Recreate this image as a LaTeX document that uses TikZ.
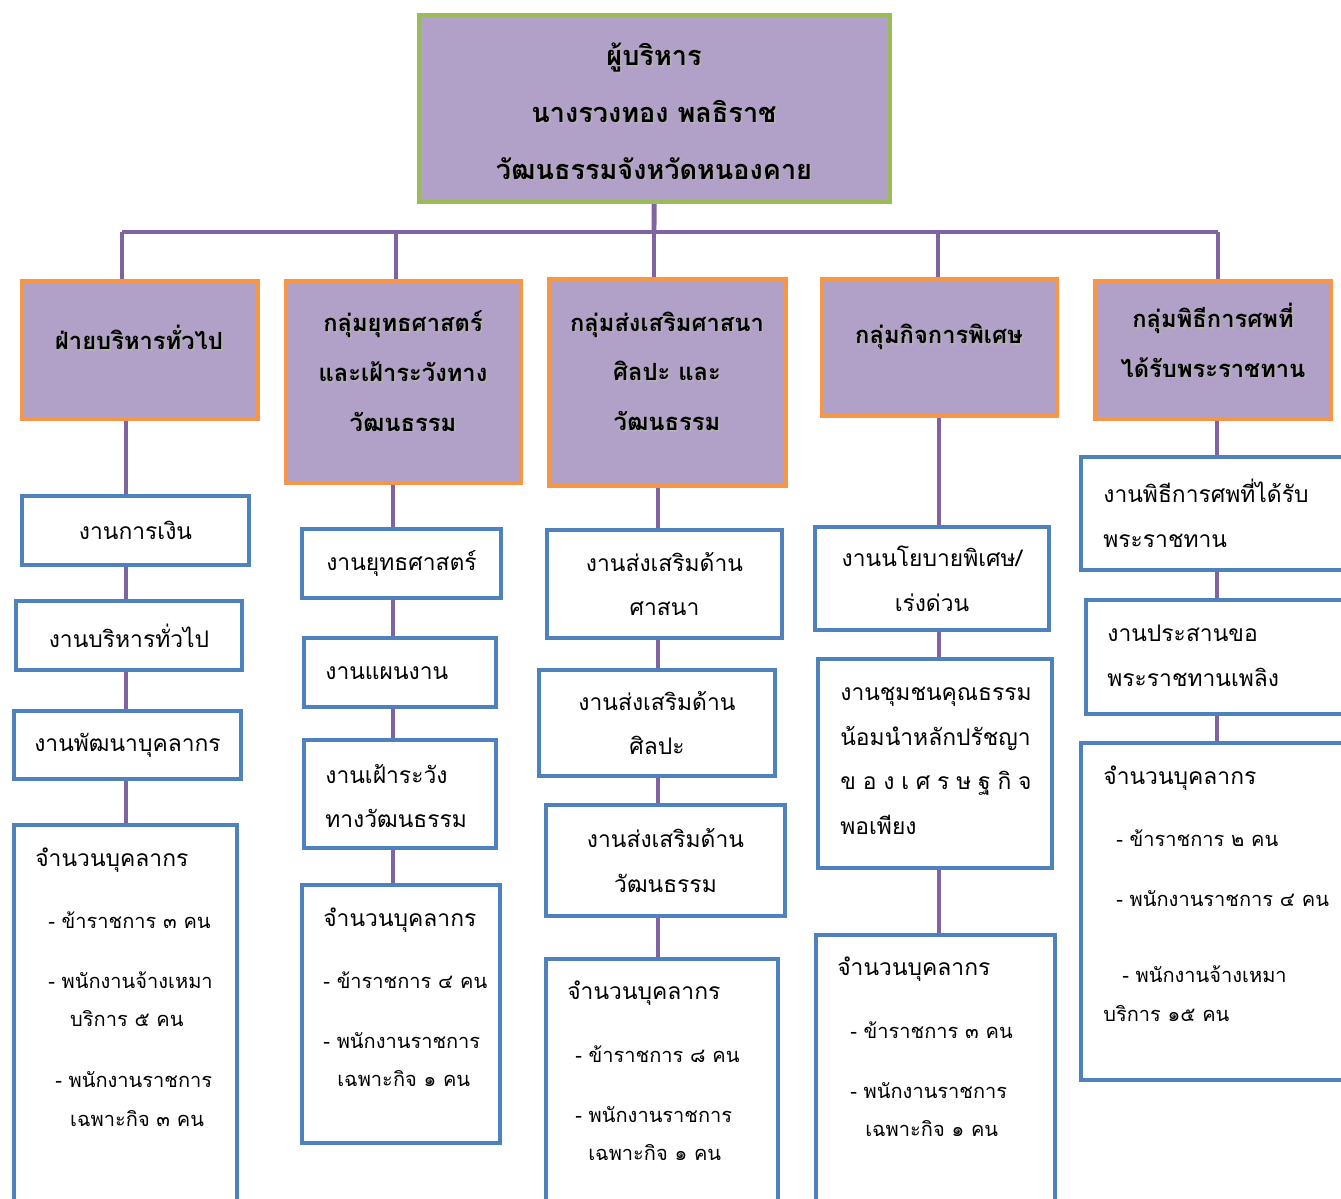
\documentclass[tikz,border=0pt]{standalone}
\usepackage{fontspec}
\setmainfont[Script=Thai]{Loma}
\usetikzlibrary{fit,backgrounds}

\definecolor{boxfill}{HTML}{B1A0C7}
\definecolor{topline}{HTML}{9BBB59}
\definecolor{grpline}{HTML}{F79646}
\definecolor{jobline}{HTML}{4F81BD}
\definecolor{linkline}{HTML}{8064A2}

\newlength\pxu
\setlength\pxu{0.5669pt}
\newcommand\shd[1]{\leavevmode\rlap{\kern1pt\raisebox{-1pt}{\textcolor{black!30}{#1}}}#1}
\newcommand\staffhead{{\fontsize{13}{22.1}\selectfont\strut จำนวนบุคลากร}}

\tikzset{
  topbox/.style={draw=topline, fill=boxfill, line width=2.3pt, inner sep=0pt},
  grpbox/.style={draw=grpline, fill=boxfill, line width=2.8pt, inner sep=0pt},
  jobbox/.style={draw=jobline, fill=white, line width=2.8pt, inner sep=0pt},
  link/.style={draw=linkline, line width=2.8pt},
  head/.style={font=\bfseries\fontsize{13.5}{28.3}\selectfont, align=center, inner sep=0pt},
  body/.style={font=\fontsize{13}{25.5}\selectfont, align=center, inner sep=0pt},
  lbody/.style={body, align=left, anchor=west},
  staff/.style={font=\fontsize{11.4}{22.1}\selectfont, align=left, inner sep=0pt, anchor=north west},
}

\begin{document}
\begin{tikzpicture}[x=0.02cm, y=-0.02cm]
\useasboundingbox (0,0) rectangle (1341,1199);
\clip (0,0) rectangle (1341,1199);

% director
\node[topbox, fit={(419,15) (890,202)}] (top) {};
\node[head, font=\bfseries\fontsize{15.4}{32.3}\selectfont] (toptxt) at (654,112)
  {\shd{ผู้บริหาร}\\\shd{นางรวงทอง พลธิราช}\\\shd{วัฒนธรรมจังหวัดหนองคาย}};

% groups
\node[grpbox, fit={(22,281) (258,419)}] (g1) {};
\node[grpbox, fit={(286,281) (521,483)}] (g2) {};
\node[grpbox, fit={(549,279) (786,486)}] (g3) {};
\node[grpbox, fit={(822,279) (1057,416)}] (g4) {};
\node[grpbox, fit={(1095,281) (1331,419)}] (g5) {};
\node[head] (g1txt) at (139,338) {\shd{ฝ่ายบริหารทั่วไป}};
\node[head] (g2txt) at (403,372) {\shd{กลุ่มยุทธศาสตร์}\\\shd{และเฝ้าระวังทาง}\\\shd{วัฒนธรรม}};
\node[head] (g3txt) at (667,372) {\shd{กลุ่มส่งเสริมศาสนา}\\\shd{ศิลปะ และ}\\\shd{วัฒนธรรม}};
\node[head] (g4txt) at (939,338) {\shd{กลุ่มกิจการพิเศษ}};
\node[head] (g5txt) at (1213,341) {\shd{กลุ่มพิธีการศพที่}\\\shd{ได้รับพระราชทาน}};

% column 1
\node[jobbox, fit={(22,496) (249,565)}] (b1a) {};
\node[jobbox, fit={(16,601) (242,670)}] (b1b) {};
\node[jobbox, fit={(14,711) (241,779)}] (b1c) {};
\node[jobbox, fit={(14,825) (237,1230)}] (b1d) {};
\node[body] (t1a) at (b1a) {งานการเงิน};
\node[body] (t1b) at (b1b) {งานบริหารทั่วไป};
\node[body] (t1c) at (b1c) {งานพัฒนาบุคลากร};
\node[staff] (t1d) at (35,839) {\staffhead\\[23\pxu]
  \hspace{13\pxu}- ข้าราชการ ๓ คน\\[21\pxu]
  \hspace{13\pxu}- พนักงานจ้างเหมา\\
  \hspace{35\pxu}บริการ ๕ คน\\[22\pxu]
  \hspace{20\pxu}- พนักงานราชการ\\
  \hspace{35\pxu}เฉพาะกิจ ๓ คน};

% column 2
\node[jobbox, fit={(302,529) (501,598)}] (b2a) {};
\node[jobbox, fit={(304,638) (496,707)}] (b2b) {};
\node[jobbox, fit={(304,740) (496,848)}] (b2c) {};
\node[jobbox, fit={(302,885) (500,1143)}] (b2d) {};
\node[body] (t2a) at (b2a) {งานยุทธศาสตร์};
\node[lbody] (t2b) at (325,673) {งานแผนงาน};
\node[lbody] (t2c) at (325,796) {งานเฝ้าระวัง\\ทางวัฒนธรรม};
\node[staff] (t2d) at (323,899) {\staffhead\\[23\pxu]
  - ข้าราชการ ๔ คน\\[21\pxu]
  - พนักงานราชการ\\
  \hspace{14\pxu}เฉพาะกิจ ๑ คน};

% column 3
\node[jobbox, fit={(547,530) (782,638)}] (b3a) {};
\node[jobbox, fit={(539,670) (775,776)}] (b3b) {};
\node[jobbox, fit={(546,805) (785,916)}] (b3c) {};
\node[jobbox, fit={(546,959) (778,1230)}] (b3d) {};
\node[body] (t3a) at (b3a) {งานส่งเสริมด้าน\\ศาสนา};
\node[body] (t3b) at (b3b) {งานส่งเสริมด้าน\\ศิลปะ};
\node[body] (t3c) at (b3c) {งานส่งเสริมด้าน\\วัฒนธรรม};
\node[staff] (t3d) at (567,972) {\staffhead\\[24\pxu]
  \hspace{8\pxu}- ข้าราชการ ๘ คน\\[21\pxu]
  \hspace{8\pxu}- พนักงานราชการ\\
  \hspace{21\pxu}เฉพาะกิจ ๑ คน};

% column 4
\node[jobbox, fit={(815,527) (1049,630)}] (b4a) {};
\node[jobbox, fit={(818,659) (1052,868)}] (b4b) {};
\node[jobbox, fit={(816,935) (1055,1230)}] (b4c) {};
\node[body] (t4a) at (b4a) {งานนโยบายพิเศษ/\\เร่งด่วน};
\node[lbody] (t4b) at (840,761) {งานชุมชนคุณธรรม\\น้อมนำหลักปรัชญา\\
  \makebox[192\pxu][s]{ข อ ง เ ศ ร ษ ฐ กิ จ}\\พอเพียง};
\node[staff] (t4d) at (837,948) {\staffhead\\[24\pxu]
  \hspace{13\pxu}- ข้าราชการ ๓ คน\\[21\pxu]
  \hspace{13\pxu}- พนักงานราชการ\\
  \hspace{28\pxu}เฉพาะกิจ ๑ คน};

% column 5
\node[jobbox, fit={(1081,457) (1360,570)}] (b5a) {};
\node[jobbox, fit={(1086,600) (1360,714)}] (b5b) {};
\node[jobbox, fit={(1081,743) (1360,1080)}] (b5c) {};
\node[lbody] (t5a) at (1103,513) {งานพิธีการศพที่ได้รับ\\พระราชทาน};
\node[lbody] (t5b) at (1107,656) {งานประสานขอ\\พระราชทานเพลิง};
\node[staff] (t5d) at (1103,757) {\staffhead\\[23\pxu]
  \hspace{13\pxu}- ข้าราชการ ๒ คน\\[21\pxu]
  \hspace{13\pxu}- พนักงานราชการ ๔ คน\\[38\pxu]
  \hspace{19\pxu}- พนักงานจ้างเหมา\\
  บริการ ๑๕ คน};

% connectors
\begin{pgfonlayer}{background}
\coordinate (d1) at (122,232);
\coordinate (d2) at (396,232);
\coordinate (d3) at (654,232);
\coordinate (d4) at (938,232);
\coordinate (d5) at (1218,232);
\coordinate (c1) at (126,0);
\coordinate (c2) at (393,0);
\coordinate (c3) at (658,0);
\coordinate (c4) at (939,0);
\coordinate (c5) at (1217,0);
\draw[link] (top.center) -- (d3);
\draw[link] (d1) -- (d5);
\foreach \i in {1,...,5}
  \draw[link] (d\i) -- (d\i |- g\i.center);
\draw[link] (g1.center -| c1) -- (b1d.center -| c1);
\draw[link] (g2.center -| c2) -- (b2d.center -| c2);
\draw[link] (g3.center -| c3) -- (b3d.center -| c3);
\draw[link] (g4.center -| c4) -- (b4c.center -| c4);
\draw[link] (g5.center -| c5) -- (b5c.center -| c5);
\end{pgfonlayer}
\end{tikzpicture}
\end{document}
